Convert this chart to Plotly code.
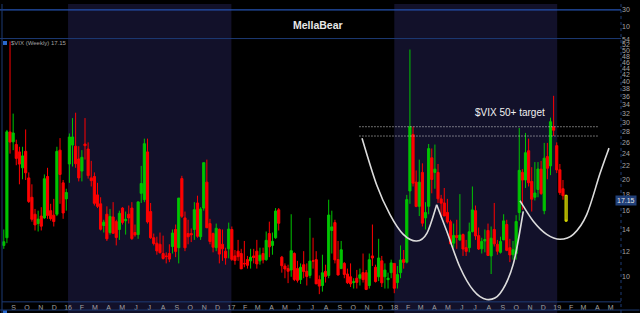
import numpy as np
import pandas as pd
import plotly.graph_objects as go

W, H = 640, 313
ML, MR = 2, 19
PW = W - ML - MR


def px(x):
    return (x - ML) / PW


def py(y):
    return 1 - y / H


# ---------------- data: weekly $VIX candles (week starting Mondays) ----------------
week_start = "2015-08-10"
opens = [
    12.5, 13.2, 28.0, 26.1, 25.6, 24.3, 21.7, 24.4, 20.2, 17.6, 15.6, 14.6, 15.4, 15.2, 20.4, 16.0, 15.5, 15.6, 24.6, 19.5, 17.4,
    22.3, 25.5, 25.3, 23.1, 21.2, 25.7, 24.8, 20.2, 20.4, 17.9, 16.8, 14.4, 15.6, 13.7, 15.3, 14.8, 14.0, 16.3, 14.9, 15.6, 16.3, 13.7,
    13.5, 18.1, 17.3, 24.3, 15.9, 13.2, 12.7, 12.6, 11.8, 11.6, 11.8, 12.4, 14.0, 12.3, 20.1, 15.2, 13.6, 13.6, 14.0, 16.9, 13.3, 16.3,
    19.6, 14.6, 13.6, 12.3, 14.0, 12.6, 12.0, 12.2,
    14.0, 11.6, 12.0, 11.8, 11.0, 11.3, 11.2, 11.6, 12.0, 11.2, 11.8, 11.3, 13.6, 12.5, 13.2, 16.1, 11.5, 10.8, 10.6, 10.5, 11.8, 10.6,
    9.8, 10.9, 10.4, 10.1, 11.2, 11.3, 9.8, 9.4, 10.4, 10.1, 13.9, 14.7, 11.3, 10.6, 11.0, 10.2, 10.0, 9.6, 9.9, 9.9, 10.3, 10.3,
    9.4, 11.6, 10.7, 10.0, 11.2, 10.0, 9.8, 10.3,
    11.0, 9.6, 10.3, 11.3, 11.1, 18.4, 27.5, 19.6, 16.5, 21.0, 15.2, 16.5, 23.3, 21.0, 21.0, 17.4, 16.9, 15.8, 14.8, 12.7, 13.4, 13.0,
    13.5, 12.3, 12.3, 13.8, 16.0, 13.4, 12.2, 12.9, 13.9, 11.6, 14.0, 12.6, 11.9, 13.0, 14.5, 12.3, 11.7, 11.8, 15.8, 21.0, 19.9, 24.5,
    19.7, 17.6, 18.6, 21.5, 16.0, 23.5, 22.0, 29.0,
    25.4, 21.4, 18.7,
]
highs = [
    14.0, 28.4, 53.3, 31.9, 26.5, 25.2, 25.2, 28.5, 21.0, 19.3, 16.2, 16.0, 16.4, 20.7, 21.7, 16.8, 17.4, 25.2, 26.8, 19.9, 18.7,
    27.7, 30.9, 32.1, 25.3, 24.6, 30.9, 26.0, 22.8, 21.0, 19.5, 17.6, 15.0, 16.5, 16.2, 17.0, 15.0, 16.0, 16.4, 15.9, 16.6, 17.0, 14.5,
    17.1, 22.0, 26.7, 26.7, 16.9, 13.6, 13.3, 13.7, 13.4, 11.9, 12.6, 14.0, 14.5, 17.5, 20.5, 15.9, 15.0, 14.1, 17.0, 17.8, 16.4, 22.5,
    23.0, 15.1, 13.7, 14.6, 14.1, 14.0, 12.3, 14.7,
    14.3, 12.1, 13.0, 12.2, 12.9, 11.6, 12.2, 12.2, 13.0, 12.3, 12.3, 13.8, 14.8, 13.7, 16.3, 16.3, 11.6, 11.0, 10.9, 15.6, 11.9, 11.2,
    11.0, 12.0, 11.0, 15.2, 13.2, 12.0, 10.1, 11.7, 10.9, 17.3, 16.0, 15.0, 12.9, 12.9, 11.1, 10.6, 11.0, 9.9, 10.5, 10.6, 11.8, 10.5,
    11.8, 14.5, 10.9, 13.1, 11.6, 11.0, 10.3, 11.3,
    11.0, 10.8, 12.5, 12.1, 17.9, 50.3, 29.1, 21.3, 23.0, 22.4, 17.0, 25.7, 24.9, 25.6, 22.3, 17.9, 18.8, 17.4, 15.0, 14.6, 15.0, 18.0,
    13.6, 13.0, 14.7, 19.0, 16.6, 14.2, 13.2, 14.0, 14.6, 14.3, 16.9, 13.0, 13.3, 15.6, 15.0, 13.1, 12.9, 15.5, 28.8, 21.5, 27.8, 26.7,
    21.8, 22.6, 22.6, 22.8, 25.9, 25.9, 31.0, 36.2,
    26.0, 22.3, 19.9,
]
lows = [
    12.2, 12.7, 24.0, 24.6, 22.1, 19.3, 20.0, 19.9, 16.9, 14.8, 13.9, 13.8, 13.9, 15.1, 15.1, 14.9, 14.3, 15.4, 16.8, 15.1, 16.0,
    19.5, 21.9, 21.7, 19.7, 19.7, 23.0, 20.1, 19.0, 16.6, 16.3, 13.9, 13.7, 12.9, 13.5, 13.6, 12.5, 13.0, 14.5, 13.5, 14.6, 13.0, 13.3,
    13.1, 16.9, 17.0, 14.6, 13.1, 12.5, 11.7, 11.8, 11.3, 11.0, 11.1, 11.8, 11.5, 11.0, 15.2, 12.0, 12.6, 12.8, 13.0, 13.2, 13.0, 16.0,
    14.2, 12.6, 11.9, 12.0, 11.0, 11.2, 10.9, 11.4,
    11.2, 10.9, 11.2, 10.6, 10.7, 10.6, 10.6, 11.0, 10.6, 10.9, 11.0, 11.2, 11.5, 11.7, 13.1, 13.9, 10.3, 9.9, 9.56, 10.0, 9.7, 9.6,
    9.5, 9.9, 9.4, 9.9, 10.6, 9.5, 8.84, 9.0, 9.6, 9.9, 11.8, 11.0, 10.1, 10.6, 9.9, 9.5, 9.3, 9.2, 9.2, 9.4, 9.6, 9.1,
    9.2, 10.8, 9.6, 9.7, 9.3, 9.2, 9.2, 9.9,
    8.9, 9.2, 9.9, 10.6, 11.0, 16.8, 19.0, 16.4, 15.4, 14.3, 14.0, 15.6, 18.1, 18.7, 16.9, 15.2, 15.4, 14.6, 12.6, 12.3, 12.2, 12.9,
    11.6, 11.6, 11.9, 13.7, 13.0, 12.1, 11.8, 11.9, 11.6, 10.2, 12.4, 11.7, 11.8, 13.0, 12.0, 11.1, 11.3, 11.3, 14.9, 16.1, 18.8, 19.0,
    15.9, 17.2, 17.6, 17.9, 15.6, 20.0, 20.6, 27.2,
    20.9, 17.9, 17.3,
]
closes = [
    12.83, 28.03, 26.05, 27.80, 23.20, 22.28, 23.62, 20.94, 17.08, 15.05, 14.46, 15.07, 14.33, 20.08, 15.47, 15.12, 14.81, 24.39, 20.70, 15.74, 18.21,
    27.01, 27.02, 22.34, 20.20, 23.38, 25.40, 20.53, 19.81, 16.86, 16.50, 14.02, 14.74, 13.10, 15.36, 13.62, 13.22, 15.70, 14.72, 15.04, 15.20, 13.12, 13.47,
    17.03, 19.41, 25.76, 14.77, 13.20, 12.67, 12.02, 11.87, 11.39, 11.55, 11.34, 13.65, 11.98, 17.50, 15.37, 12.29, 13.29, 13.48, 16.12, 13.34, 16.19, 22.51,
    14.17, 12.85, 12.34, 14.12, 11.75, 12.20, 11.44, 14.04,
    11.32, 11.23, 11.54, 10.58, 10.97, 10.85, 11.49, 11.47, 10.96, 11.66, 11.28, 12.96, 12.37, 12.87, 15.96, 14.63, 10.82, 10.57, 10.40, 12.04, 9.81, 9.75,
    10.70, 10.38, 10.02, 11.18, 11.19, 9.51, 9.36, 10.29, 10.03, 15.51, 14.26, 11.28, 10.13, 12.12, 10.17, 9.59, 9.51, 9.65, 9.61, 10.15, 9.80, 9.14,
    11.29, 11.43, 9.67, 11.43, 9.58, 10.49, 9.90, 11.04,
    9.22, 10.16, 11.27, 11.08, 17.31, 29.06, 19.46, 16.49, 19.59, 14.64, 15.80, 24.87, 19.97, 21.49, 17.41, 16.88, 15.41, 14.77, 12.65, 13.42, 13.22, 13.46,
    12.18, 11.98, 13.77, 16.09, 13.37, 12.18, 12.86, 13.03, 11.64, 13.16, 12.64, 11.99, 12.86, 14.88, 12.07, 11.68, 12.12, 14.82, 21.31, 19.89, 24.16, 19.51,
    17.36, 18.14, 21.52, 18.07, 23.23, 21.63, 30.11, 28.34,
    21.38, 18.19, 17.80,
]

# current (in-progress) week, drawn in yellow
cur_date = ["2019-01-21"]
cur_open, cur_high, cur_low, cur_close = [17.85], [17.9], [14.8], [14.85]
last_value = 17.15

# tick labels
y_ticks = [10, 12, 14, 16, 18, 20, 22, 24, 26, 28, 30, 32, 34, 36, 38, 40, 42, 44, 46, 48, 50, 52, 54]
top_ticks = [10, 30]
month_starts = pd.date_range("2015-09-01", "2019-05-01", freq="MS")
month_letters = "JFMAMJJASOND"
month_text = [d.strftime("%y") if d.month == 1 else month_letters[d.month - 1] for d in month_starts]

shaded_years = [2016, 2018]
target_levels = [29.06, 27.2]
target_span = ["2017-10-15", "2019-04-02"]

dates = pd.date_range(week_start, periods=len(closes), freq="7D")

# ---------------- figure ----------------
GREEN = "#00c400"
RED = "#ff0000"
AX_BLUE = "#1d3a74"
TICK = "#a4a4a4"
FONT = "Liberation Sans"

fig = go.Figure()

fig.add_trace(go.Candlestick(
    x=dates, open=opens, high=highs, low=lows, close=closes,
    increasing=dict(line=dict(color=GREEN, width=1), fillcolor=GREEN),
    decreasing=dict(line=dict(color=RED, width=1), fillcolor=RED),
    xaxis="x", yaxis="y", hoverinfo="skip",
))
fig.add_trace(go.Candlestick(
    x=cur_date, open=cur_open, high=cur_high, low=cur_low, close=cur_close,
    increasing=dict(line=dict(color="#e0e000", width=1), fillcolor="#8a8a00"),
    decreasing=dict(line=dict(color="#e0e000", width=1), fillcolor="#8a8a00"),
    xaxis="x", yaxis="y", hoverinfo="skip",
))

# dotted target lines
for lvl in target_levels:
    fig.add_trace(go.Scatter(
        x=target_span, y=[lvl, lvl], mode="lines",
        line=dict(color="#d8d8d8", width=1, dash="1px,2px"),
        xaxis="x", yaxis="y", hoverinfo="skip",
    ))

# dummy trace for the upper indicator panel
fig.add_trace(go.Scatter(x=[dates[0]], y=[None], mode="lines", xaxis="x", yaxis="y2", hoverinfo="skip"))

shapes = []
for yr in shaded_years:
    shapes.append(dict(type="rect", xref="x", yref="paper", x0=f"{yr}-01-01", x1=f"{yr + 1}-01-01",
                       y0=0, y1=1, fillcolor="#12112a", line=dict(width=0), layer="below"))

# panel frame lines
shapes += [
    dict(type="line", xref="paper", yref="y2", x0=-0.005, x1=1, y0=30, y1=30, line=dict(color="#2452b0", width=1.2)),
    dict(type="line", xref="paper", yref="paper", x0=-0.005, x1=1, y0=py(35), y1=py(35), line=dict(color=AX_BLUE, width=1)),
    dict(type="line", xref="paper", yref="paper", x0=0, x1=1, y0=py(301.7), y1=py(301.7), line=dict(color=AX_BLUE, width=1)),
    dict(type="line", xref="paper", yref="paper", x0=-0.005, x1=1.03, y0=py(310), y1=py(310), line=dict(color=AX_BLUE, width=1)),
    dict(type="line", xref="paper", yref="paper", x0=0, x1=0, y0=0, y1=1, line=dict(color=AX_BLUE, width=1)),
    dict(type="line", xref="paper", yref="paper", x0=1, x1=1, y0=0, y1=1, line=dict(color=AX_BLUE, width=1, dash="dot")),
    dict(type="rect", xref="paper", yref="paper", x0=px(3), x1=px(7), y0=py(41.5), y1=py(37.5),
         fillcolor="#2a6ad0", line=dict(width=0)),
    dict(type="rect", xref="paper", yref="paper", x0=px(3), x1=px(7), y0=py(313), y1=py(310.5),
         fillcolor="#2a6ad0", line=dict(width=0)),
]

# hand-drawn cup curves (pixel sketch points -> paper)
curves = [
    [(362, 136), (376.7, 183.3), (390, 213.3), (403.3, 233.3), (416.7, 240), (427, 232), (436.7, 203.3)],
    [(436.7, 203.3), (446.7, 230), (460, 266.7), (473.3, 290), (486.7, 299.3), (500, 293.3), (513.3, 263.3), (523.3, 210)],
    [(520, 199.3), (533.3, 220), (546.7, 233.3), (560, 238.3), (573.3, 233.3), (586.7, 213.3), (600, 171.7), (609, 146)],
]


def smooth_path(pts):
    p = [np.array([px(a), py(b)]) for a, b in pts]
    d = f"M {p[0][0]:.5f},{p[0][1]:.5f}"
    for i in range(len(p) - 1):
        p0 = p[i - 1] if i > 0 else p[i]
        p1, p2 = p[i], p[i + 1]
        p3 = p[i + 2] if i + 2 < len(p) else p[i + 1]
        c1 = p1 + (p2 - p0) / 6
        c2 = p2 - (p3 - p1) / 6
        d += f" C {c1[0]:.5f},{c1[1]:.5f} {c2[0]:.5f},{c2[1]:.5f} {p2[0]:.5f},{p2[1]:.5f}"
    return d


for c in curves:
    shapes.append(dict(type="path", xref="paper", yref="paper", path=smooth_path(c),
                       line=dict(color="#dcdcdc", width=1.6)))

annotations = [
    dict(text="<b>MellaBear</b>", x=px(318), y=py(21), xref="paper", yref="paper", showarrow=False,
         font=dict(family=FONT, size=10.5, color="#e8e8e8"), xanchor="center", yanchor="middle"),
    dict(text="$VIX (Weekly) 17.15", x=px(9), y=py(39.5), xref="paper", yref="paper", showarrow=False,
         font=dict(family=FONT, size=6, color="#a0a0a0"), xanchor="left", yanchor="middle"),
    dict(text="MACD(12,26,9) 0.717, 1.590, -0.873", x=px(9), y=py(310.5), xref="paper", yref="paper",
         showarrow=False, font=dict(family=FONT, size=6, color="#a0a0a0"), xanchor="left", yanchor="top"),
    dict(text="$VIX 50+ target", x=px(509.5), y=py(109.7), xref="paper", yref="paper", showarrow=False,
         font=dict(family=FONT, size=10, color="#f0f0f0"), xanchor="center", yanchor="middle"),
    dict(text=f"{last_value:.2f}", x=px(615), y=np.log10(last_value), xref="paper", yref="y", showarrow=False,
         font=dict(family=FONT, size=7, color="#e6e6e6"), xanchor="left", yanchor="middle",
         bgcolor="#21407a", borderpad=1),
]

fig.update_layout(
    width=W, height=H,
    margin=dict(l=ML, r=MR, t=0, b=0),
    paper_bgcolor="#000000", plot_bgcolor="#000000",
    showlegend=False, boxgap=0.02,
    font=dict(family=FONT, size=7, color=TICK),
    shapes=shapes, annotations=annotations,
    xaxis=dict(type="date", range=["2015-08-06", "2019-05-24"], anchor="y",
               tickvals=month_starts, ticktext=month_text, ticks="", showgrid=False, zeroline=False,
               showline=False, rangeslider=dict(visible=False), tickfont=dict(size=7, color=TICK)),
    yaxis=dict(type="log", side="right", anchor="x", domain=[py(301.7), py(36)],
               range=[np.log10(8.37), np.log10(54.0)], tickvals=y_ticks, ticktext=[str(v) for v in y_ticks],
               ticks="", showgrid=False, zeroline=False, showline=False, tickfont=dict(size=7, color=TICK)),
    yaxis2=dict(side="right", anchor="x", domain=[py(35), 1], range=[-4.1, 37.06], tickvals=top_ticks,
                ticks="", showgrid=False, zeroline=False, showline=False, tickfont=dict(size=7, color=TICK)),
)

fig.write_html("out.html")
